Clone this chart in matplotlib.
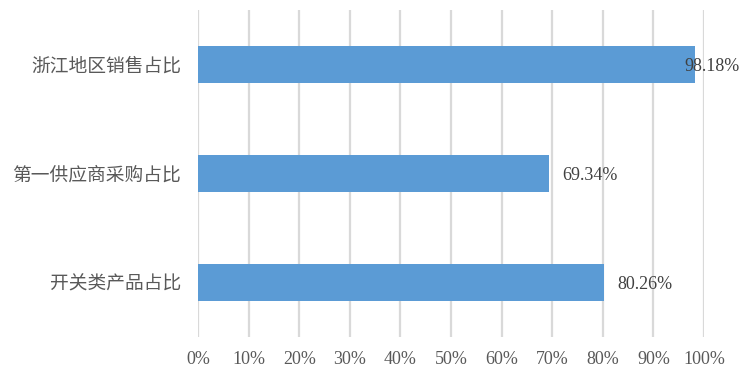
import matplotlib
matplotlib.use('Agg')
import matplotlib.pyplot as plt
from matplotlib.ticker import FuncFormatter

categories = ['开关类产品占比', '第一供应商采购占比', '浙江地区销售占比']
values = [80.26, 69.34, 98.18]
ticks = list(range(0, 101, 10))

cjk = ['Liberation Serif', 'Noto Sans CJK SC']

fig = plt.figure(figsize=(7.49, 3.79), dpi=100)
ax = fig.add_axes([198 / 749, 1 - 337 / 379, 506 / 749, 327 / 379])

ypos = range(len(categories))
ax.barh(ypos, values, height=0.34, color='#5B9BD5', zorder=3)

ax.set_xlim(0, 100)
ax.set_ylim(-0.5, len(categories) - 0.5)
ax.set_xticks(ticks)
ax.xaxis.set_major_formatter(FuncFormatter(lambda v, p: '%d%%' % v))
ax.set_yticks(list(ypos))
ax.set_yticklabels(categories, family=cjk, fontsize=13.5, color='#595959')
for lab in ax.get_xticklabels():
    lab.set_family('Liberation Serif')
    lab.set_fontsize(13)
    lab.set_color('#595959')
ax.tick_params(axis='x', length=0, pad=10)
ax.tick_params(axis='y', length=0, pad=12)

ax.grid(axis='x', color='#D9D9D9', linewidth=1.6, zorder=0)
for s in ax.spines.values():
    s.set_visible(False)

for y, v in zip(ypos, values):
    x = min(v + 2.6, 96.2)
    ax.text(x, y - 0.02, '%.2f%%' % v, ha='left', va='center',
            family='Liberation Serif', fontsize=13, color='#404040',
            zorder=4, clip_on=False)

fig.savefig('out.png', dpi=100)
